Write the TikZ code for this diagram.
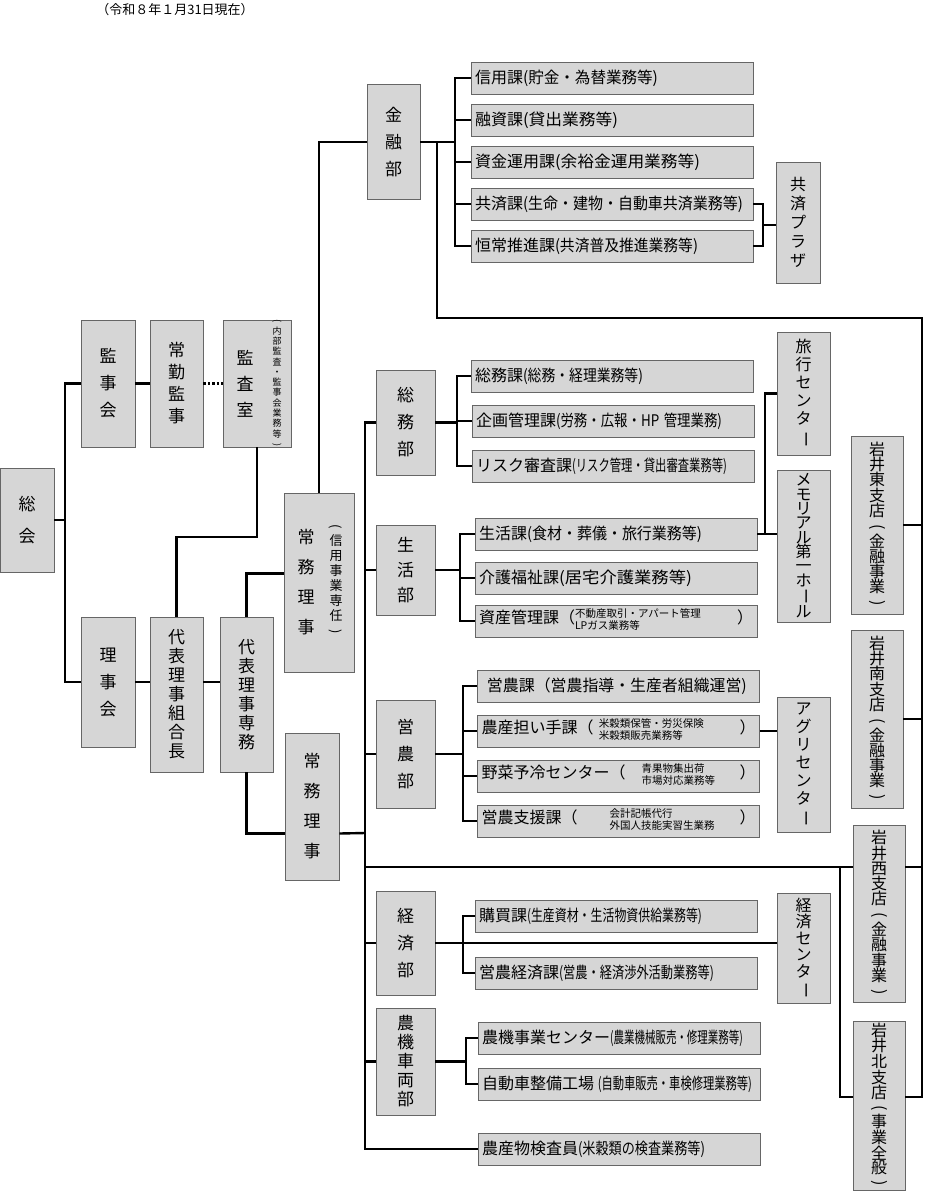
\documentclass[tikz,border=0pt]{standalone}
\usepackage{fontspec}
\setmainfont{Noto Sans CJK JP}
\usepackage{graphicx}
\usetikzlibrary{positioning}
\newcommand{\vl}[1]{\rotatebox[origin=c]{-90}{#1}}
\newcommand{\sub}[2]{\resizebox{#1pt}{\height}{\fontsize{16}{18}\selectfont #2}}
\newcommand{\two}[2]{{\fontsize{10.5}{11.5}\selectfont\begin{tabular}{@{}l@{}}#1\\#2\end{tabular}}}
\tikzset{%
	box/.style    = {draw=black!60, fill=black!16, line width=0.8pt, inner sep=0pt},
	vbox/.style   = {box, align=center, font=\fontsize{17}{27}\selectfont},
	hbox/.style   = {box, minimum width=282pt, minimum height=32pt, text width=274pt, align=left, font=\fontsize{16}{18}\selectfont},
	link/.style   = {line width=2.4pt},
	note/.style   = {align=center, inner sep=0pt, font=\fontsize{9}{10.3}\selectfont},
}
\begin{document}
\begin{tikzpicture}[x=1pt, y=-1pt]
	\useasboundingbox (0,0) rectangle (925,1200);
	\node[font=\fontsize{13}{15}\selectfont] (title) at (175,10) {（令和８年１月31日現在）};
	% left side
	\node[vbox, minimum width=54pt, minimum height=104pt, font=\fontsize{17}{32}\selectfont] (sokai) at (27,520) {総\\会};
	\node[vbox, minimum width=54pt, minimum height=127pt] (kanjikai) at (108,383.5) {監\\事\\会};
	\node[vbox, minimum width=53pt, minimum height=127pt, font=\fontsize{17}{22}\selectfont] (jokin) at (176.5,383.5) {常\\勤\\監\\事};
	\node[vbox, minimum width=68pt, minimum height=127pt] (kansa) at (257,383.5) {};
	\node[font=\fontsize{17}{26}\selectfont, align=center, inner sep=0pt] (kansalabel) at (245,383.5) {監\\査\\室};
	\node[note] (kansanote) at (277,383.5) {\vl{(}\\内\\部\\監\\査\\・\\監\\事\\会\\業\\務\\等\\\vl{)}};
	\node[vbox, minimum width=54pt, minimum height=130pt] (rijikai) at (108,682) {理\\事\\会};
	\node[vbox, minimum width=53pt, minimum height=155pt, font=\fontsize{17}{19}\selectfont] (kumiai) at (176.5,694.5) {代\\表\\理\\事\\組\\合\\長};
	\node[vbox, minimum width=53pt, minimum height=155pt, font=\fontsize{17}{19}\selectfont] (senmu) at (246.5,694.5) {代\\表\\理\\事\\専\\務};
	\node[vbox, minimum width=70pt, minimum height=179pt] (joumu1) at (319,582.5) {};
	\node[font=\fontsize{17}{30}\selectfont, align=center, inner sep=0pt] (joumu1label) at (306,582.5) {常\\務\\理\\事};
	\node[note, font=\fontsize{13}{15}\selectfont] (joumu1note) at (336,580) {\vl{(}\\信\\用\\事\\業\\専\\任\\\vl{)}};
	\node[vbox, minimum width=54pt, minimum height=147pt, font=\fontsize{17}{30}\selectfont] (joumu2) at (312,806.5) {常\\務\\理\\事};
	% departments
	\node[vbox, minimum width=53pt, minimum height=115pt] (kinyu) at (393.5,142) {金\\融\\部};
	\node[vbox, minimum width=59pt, minimum height=105pt] (somu) at (405.5,422.5) {総\\務\\部};
	\node[vbox, minimum width=59pt, minimum height=90pt, font=\fontsize{17}{25}\selectfont] (seikatsu) at (405.5,570) {生\\活\\部};
	\node[vbox, minimum width=59pt, minimum height=108pt] (einou) at (405.5,754) {営\\農\\部};
	\node[vbox, minimum width=59pt, minimum height=104pt] (keizai) at (405.5,943) {経\\済\\部};
	\node[vbox, minimum width=59pt, minimum height=107pt, font=\fontsize{17}{19}\selectfont] (nouki) at (405.5,1061.5) {農\\機\\車\\両\\部};
	% sections
	\node[hbox] (shinyo) at (612,78) {信用課\sub{135}{(貯金・為替業務等)}};
	\node[hbox] (yushi) at (612,120) {融資課\sub{95}{(貸出業務等)}};
	\node[hbox] (shikin) at (612,162) {資金運用課\sub{145}{(余裕金運用業務等)}};
	\node[hbox] (kyosai) at (612,204) {共済課\sub{220}{(生命・建物・自動車共済業務等)}};
	\node[hbox] (kojo) at (612,246) {恒常推進課\sub{143}{(共済普及推進業務等)}};
	\node[hbox] (somuka) at (612,376) {総務課\sub{120}{(総務・経理業務等)}};
	\node[hbox] (kikaku) at (613,421) {企画管理課\sub{166}{(労務・広報・HP 管理業務)}};
	\node[hbox] (risk) at (613,466) {リスク審査課\sub{155}{(リスク管理・貸出審査業務等)}};
	\node[hbox] (seikatsuka) at (616,534) {生活課\sub{175}{(食材・葬儀・旅行業務等)}};
	\node[hbox] (kaigo) at (616,578) {介護福祉課\sub{133}{(居宅介護業務等)}};
	\node[hbox] (shisan) at (616,621) {資産管理課（\two{不動産取引・アパート管理}{LPガス業務等}\hfill）};
	\node[hbox] (einouka) at (618.5,686) {\ 営農課\sub{212}{（営農指導・生産者組織運営)}};
	\node[hbox] (ninaite) at (618.5,731) {農産担い手課（\ \two{米穀類保管・労災保険}{米穀類販売業務等}\hfill）};
	\node[hbox] (yasai) at (618.5,776) {野菜予冷センター（\quad\two{青果物集出荷}{市場対応業務等}\hfill）};
	\node[hbox] (shien) at (618.5,821) {営農支援課（\qquad\two{会計記帳代行}{外国人技能実習生業務}\hfill）};
	\node[hbox] (kobai) at (616,916) {購買課\sub{175}{(生産資材・生活物資供給業務等)}};
	\node[hbox] (einoukeizai) at (616,973) {営農経済課\sub{155}{(営農・経済渉外活動業務等)}};
	\node[hbox] (noukijigyo) at (619,1038) {農機事業センター\sub{133}{(農業機械販売・修理業務等)}};
	\node[hbox] (seibi) at (619,1084) {自動車整備工場\sub{158}{ (自動車販売・車検修理業務等)}};
	\node[hbox] (kensa) at (619,1149) {農産物検査員\sub{127}{(米穀類の検査業務等)}};
	% centers and branches
	\node[vbox, minimum width=44pt, minimum height=121pt, font=\fontsize{16}{19}\selectfont] (plaza) at (798,222.5) {共\\済\\プ\\ラ\\ザ};
	\node[vbox, minimum width=53pt, minimum height=123pt, font=\fontsize{16}{18}\selectfont] (ryoko) at (803.5,393.5) {旅\\行\\セ\\ン\\タ\\\vl{ー}};
	\node[vbox, minimum width=53pt, minimum height=152pt, font=\fontsize{16}{14.3}\selectfont] (memorial) at (803.5,546) {メ\\モ\\リ\\ア\\ル\\第\\一\\ホ\\\vl{ー}\\ル};
	\node[vbox, minimum width=53pt, minimum height=135pt, font=\fontsize{16}{18}\selectfont] (agri) at (803.5,764.5) {ア\\グ\\リ\\セ\\ン\\タ\\\vl{ー}};
	\node[vbox, minimum width=53pt, minimum height=110pt, font=\fontsize{16}{16.5}\selectfont] (kcenter) at (803.5,948) {経\\済\\セ\\ン\\タ\\\vl{ー}};
	\node[vbox, minimum width=52pt, minimum height=178pt, font=\fontsize{16}{15.3}\selectfont] (higashi) at (877,525) {岩\\井\\東\\支\\店\\\vl{(}\\金\\融\\事\\業\\\vl{)}};
	\node[vbox, minimum width=52pt, minimum height=178pt, font=\fontsize{16}{15.3}\selectfont] (minami) at (877,719) {岩\\井\\南\\支\\店\\\vl{(}\\金\\融\\事\\業\\\vl{)}};
	\node[vbox, minimum width=52pt, minimum height=177pt, font=\fontsize{16}{15.3}\selectfont] (nishi) at (879,913.5) {岩\\井\\西\\支\\店\\\vl{(}\\金\\融\\事\\業\\\vl{)}};
	\node[vbox, minimum width=52pt, minimum height=169pt, font=\fontsize{16}{14.5}\selectfont] (kita) at (879,1105.5) {岩\\井\\北\\支\\店\\\vl{(}\\事\\業\\全\\般\\\vl{)}};
	% connectors, left side
	\draw[link] (sokai.east) -- (65,520);
	\draw[link] (kanjikai.west) -| (65,520) |- (rijikai.west);
	\draw[link] (kanjikai.east) -- (jokin.west);
	\draw[line width=2.4pt, dotted] (jokin.east) -- (kansa.west);
	\draw[link] (rijikai.east) -- (kumiai.west |- rijikai.east);
	\draw[link] (kumiai.east |- rijikai.east) -- (senmu.west |- rijikai.east);
	\draw[link] (kansa.south) -- (257,537) -| (kumiai.north);
	\draw[link] (senmu.north) |- ([yshift=9pt]joumu1.west);
	\draw[link] (senmu.south) |- ([yshift=-27pt]joumu2.west);
	\draw[link] (joumu1.north) |- (kinyu.west);
	\coordinate (trunktop) at (365,422.5);
	\coordinate (trunkbot) at (365,1149);
	\draw[link] (somu.west) -- (trunktop) -- (trunkbot) -- (kensa.west);
	\draw[link] ([yshift=-27pt]joumu2.east) -- (trunktop |- 0,833);
	\draw[link] (seikatsu.west) -- (trunktop |- seikatsu.west);
	\draw[link] (einou.west) -- (trunktop |- einou.west);
	\draw[link] (keizai.west) -- (trunktop |- keizai.west);
	\draw[link] (nouki.west) -- (trunktop |- nouki.west);
	% connectors, sections
	\draw[link] (kinyu.east) -- (455,142);
	\draw[link] (shinyo.west) -| (455,142) |- (kojo.west);
	\foreach \s in {yushi,shikin,kyosai} \draw[link] (\s.west) -- (455,0 |- \s.west);
	\draw[link] (somu.east) -- (457,0 |- somu.east);
	\draw[link] (somuka.west) -| (457,421) |- (risk.west);
	\draw[link] (kikaku.west) -- (457,421);
	\draw[link] (seikatsu.east) -- (460,0 |- seikatsu.east);
	\draw[link] (seikatsuka.west) -| (460,578) |- (shisan.west);
	\draw[link] (kaigo.west) -- (460,578);
	\draw[link] (einou.east) -- (463,0 |- einou.east);
	\draw[link] (einouka.west) -| (463,760) |- (shien.west);
	\foreach \s in {ninaite,yasai} \draw[link] (\s.west) -- (463,0 |- \s.west);
	\draw[link] (keizai.east) -- (kcenter.west |- keizai.east);
	\draw[link] (kobai.west) -| (463,943) |- (einoukeizai.west);
	\draw[link] (nouki.east) -- (466,0 |- nouki.east);
	\draw[link] (noukijigyo.west) -| (466,1061) |- (seibi.west);
	% connectors, centers
	\draw[link] (kyosai.east) -| (763,225) |- (kojo.east);
	\draw[link] (763,225) -- (plaza.west |- 0,225);
	\draw[link] (seikatsuka.east) -- (memorial.west |- seikatsuka.east);
	\draw[link] (765,534) |- (ryoko.west);
	\draw[link] (ninaite.east) -- (agri.west |- ninaite.east);
	% branch spine
	\draw[link] (437,142) |- (922,318) -- (922,1097) -- (kita.east |- 0,1097);
	\draw[link] (higashi.east) -- (922,0 |- higashi.east);
	\draw[link] (minami.east) -- (922,0 |- minami.east);
	\draw[link] (365,867) -- (nishi.west |- 0,867);
	\draw[link] (nishi.east |- 0,867) -- (922,867);
	\draw[link] (840,867) |- (kita.west |- 0,1097);
\end{tikzpicture}
\end{document}
